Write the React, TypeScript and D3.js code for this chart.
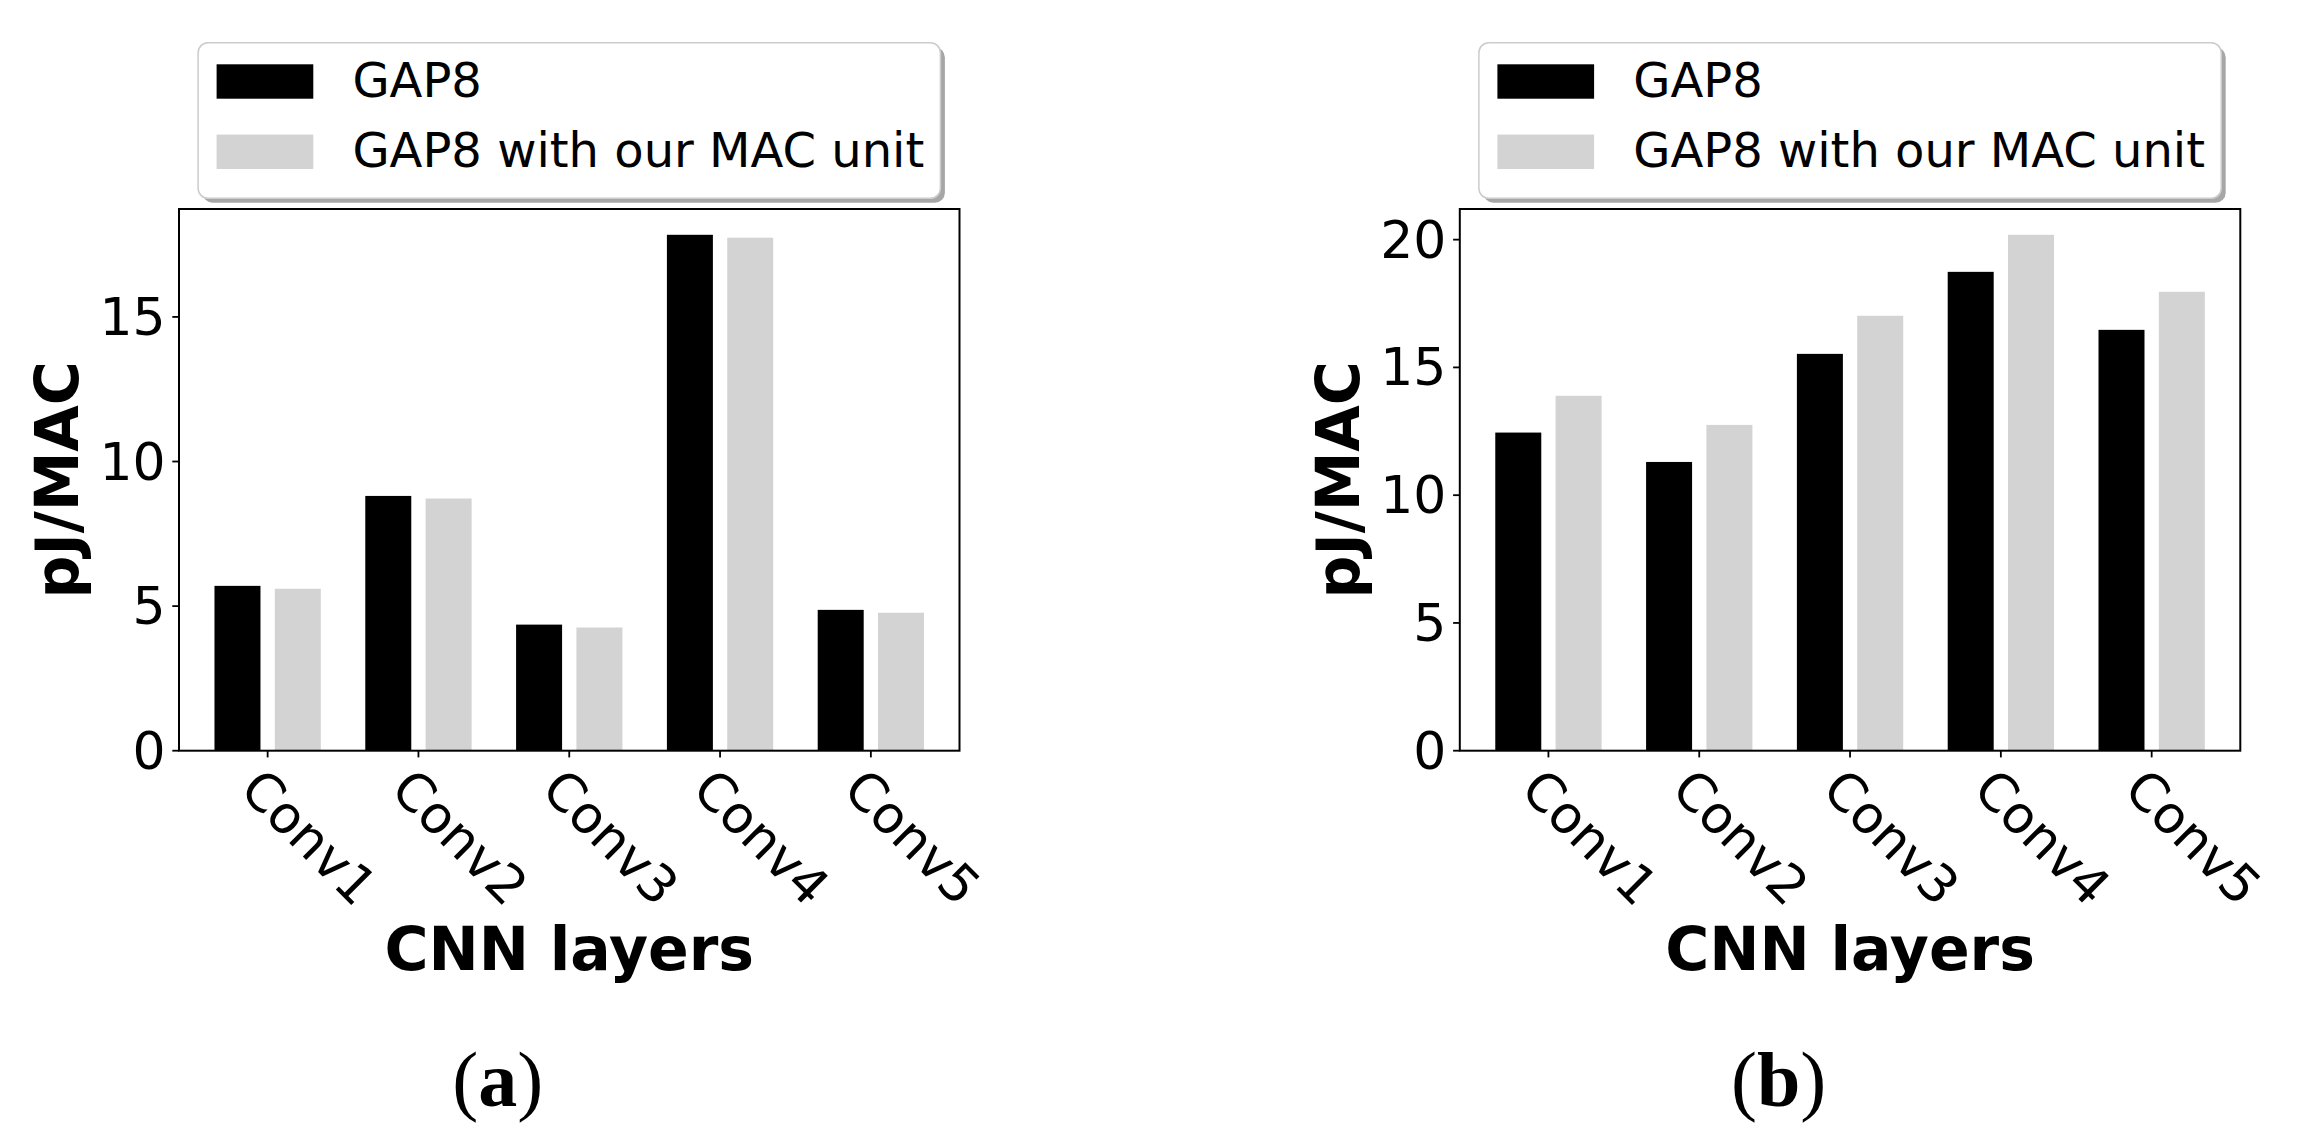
import React from "react";
import * as d3 from "d3";

const categories = ["Conv1", "Conv2", "Conv3", "Conv4", "Conv5"];
const seriesNames = ["GAP8", "GAP8 with our MAC unit"];
const seriesColors = ["#000000", "#d3d3d3"];

const gap8A = [5.7, 8.81, 4.36, 17.84, 4.87];
const macA = [5.6, 8.72, 4.26, 17.74, 4.77];
const gap8B = [12.45, 11.3, 15.53, 18.74, 16.47];
const macB = [13.89, 12.75, 17.02, 20.19, 17.96];

const yTicksA = [0, 5, 10, 15];
const yTicksB = [0, 5, 10, 15, 20];

const captionA = "a";
const captionB = "b";
const xLabel = "CNN layers";
const yLabel = "pJ/MAC";

const SANS = "'DejaVu Sans', sans-serif";
const SERIF = "'Liberation Serif', 'DejaVu Serif', serif";

type PanelProps = {
  ox: number;
  series: number[][];
  yTicks: number[];
  caption: string;
};

function Panel({ ox, series, yTicks, caption }: PanelProps) {
  const left = ox;
  const right = ox + 780.5;
  const top = 209;
  const bottom = 750.7;
  const barW = 0.305;
  const offsets = [-0.2, 0.2];

  const n = categories.length;
  const lo = offsets[0] - barW / 2;
  const hi = n - 1 + offsets[1] + barW / 2;
  const m = (hi - lo) * 0.05;
  const x = d3.scaleLinear().domain([lo - m, hi + m]).range([left, right]);
  const maxV = d3.max(series.flat()) as number;
  const y = d3.scaleLinear().domain([0, maxV * 1.05]).range([bottom, top]);

  const cx = (left + right) / 2;
  const legW = 742.3;
  const legH = 155.6;
  const legLeft = cx - legW / 2;
  const legTop = 42.7;

  return (
    <g>
      {/* legend */}
      <rect x={legLeft + 4.5} y={legTop + 4.5} width={legW} height={legH} rx={10} ry={10} fill="#a6a6a6" />
      <rect x={legLeft} y={legTop} width={legW} height={legH} rx={10} ry={10} fill="#ffffff" stroke="#cccccc" strokeWidth={1.5} />
      {seriesNames.map((name, i) => {
        const py = legTop + 21.6 + i * 70.3;
        return (
          <g key={name}>
            <rect x={legLeft + 18.5} y={py} width={96.7} height={34.4} fill={seriesColors[i]} />
            <text x={legLeft + 154.3} y={py + 32.7} fontFamily={SANS} fontSize={48} fill="#000">
              {name}
            </text>
          </g>
        );
      })}

      {/* bars */}
      {series.map((vals, si) =>
        vals.map((v, ci) => {
          const x0 = x(ci + offsets[si] - barW / 2);
          const x1 = x(ci + offsets[si] + barW / 2);
          return (
            <rect
              key={`${si}-${ci}`}
              x={x0}
              y={y(v)}
              width={x1 - x0}
              height={y(0) - y(v)}
              fill={seriesColors[si]}
            />
          );
        })
      )}

      {/* spines */}
      <rect x={left} y={top} width={right - left} height={bottom - top} fill="none" stroke="#000" strokeWidth={2} />

      {/* y axis */}
      {yTicks.map((t) => (
        <g key={t}>
          <line x1={left - 6.7} x2={left} y1={y(t)} y2={y(t)} stroke="#000" strokeWidth={1.8} />
          <text
            x={left - 13.4}
            y={y(t)}
            textAnchor="end"
            dominantBaseline="central"
            fontFamily={SANS}
            fontSize={52}
            fill="#000"
          >
            {t}
          </text>
        </g>
      ))}

      {/* x axis */}
      {categories.map((c, i) => {
        const tx = x(i);
        const px = tx - 29.7;
        const py = bottom + 41;
        return (
          <g key={c}>
            <line x1={tx} x2={tx} y1={bottom} y2={bottom + 6.7} stroke="#000" strokeWidth={1.8} />
            <text
              x={px}
              y={py}
              transform={`rotate(45, ${px}, ${py})`}
              fontFamily={SANS}
              fontSize={52}
              fill="#000"
            >
              {c}
            </text>
          </g>
        );
      })}

      {/* axis labels */}
      <text x={cx} y={970} textAnchor="middle" fontFamily={SANS} fontWeight="bold" fontSize={60} fill="#000">
        {xLabel}
      </text>
      <text
        x={left - 101}
        y={(top + bottom) / 2}
        textAnchor="middle"
        transform={`rotate(-90, ${left - 101}, ${(top + bottom) / 2})`}
        fontFamily={SANS}
        fontWeight="bold"
        fontSize={60}
        fill="#000"
      >
        {yLabel}
      </text>

      {/* caption */}
      <text x={ox + 318.8} y={1106} textAnchor="middle" fontFamily={SERIF} fontSize={78} fill="#000">
        <tspan>(</tspan>
        <tspan fontWeight="bold">{caption}</tspan>
        <tspan>)</tspan>
      </text>
    </g>
  );
}

export default function App() {
  return (
    <svg
      width={2297}
      height={1142}
      viewBox="0 0 2297 1142"
      style={{ position: "absolute", left: 0, top: 0, background: "#fff" }}
    >
      <rect x={0} y={0} width={2297} height={1142} fill="#fff" />
      <Panel ox={179} series={[gap8A, macA]} yTicks={yTicksA} caption={captionA} />
      <Panel ox={1459.8} series={[gap8B, macB]} yTicks={yTicksB} caption={captionB} />
    </svg>
  );
}
